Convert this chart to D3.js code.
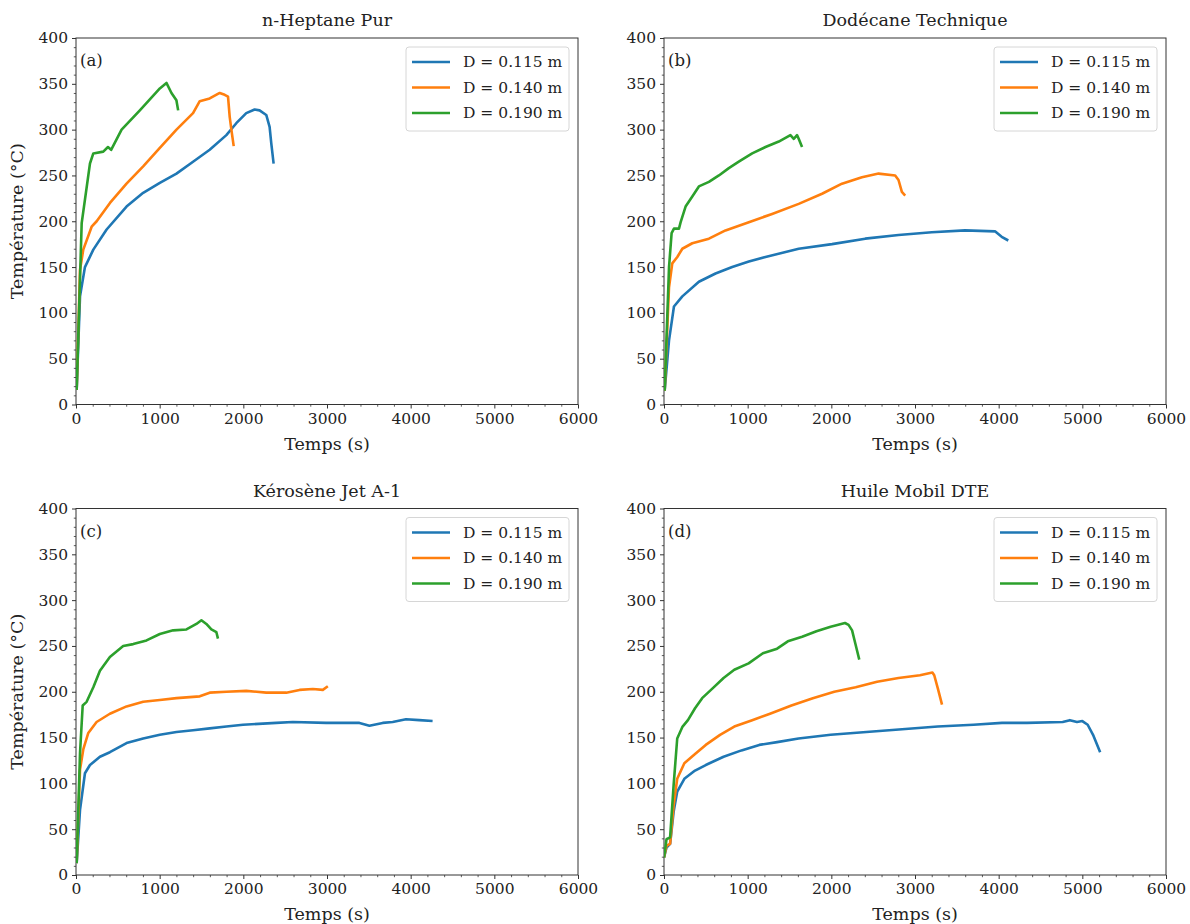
<!DOCTYPE html>
<html><head><meta charset="utf-8">
<script src="https://cdn.jsdelivr.net/npm/d3@7"></script>
<style>
body{margin:0;background:#fff;}
svg{display:block;}
text{font-family:"DejaVu Serif","Liberation Serif",serif;fill:#222;}
</style></head>
<body><svg id="c" width="1190" height="924"></svg>
<script>
// ---- Data ----
const titles = ["n-Heptane Pur", "Dodécane Technique", "Kérosène Jet A-1", "Huile Mobil DTE"];
const panelLabels = ["(a)", "(b)", "(c)", "(d)"];
const seriesNames = ["D = 0.115 m", "D = 0.140 m", "D = 0.190 m"];
const seriesColors = ["#1f77b4", "#ff7f0e", "#2ca02c"];
const xTicks = [0, 1000, 2000, 3000, 4000, 5000, 6000];
const yTicks = [0, 50, 100, 150, 200, 250, 300, 350, 400];

// (a) n-Heptane
const hept115 = [[8,16],[48,118],[107,150],[207,169],[366,191],[604,216],[803,231],[1002,242],[1201,252],[1399,265],[1598,278],[1797,294],[1916,307],[2035,318],[2135,322],[2194,321],[2274,316],[2314,303],[2334,285],[2362,263]];
const hept140 = [[8,16],[48,147],[87,169],[187,194],[247,200],[406,220],[604,241],[803,260],[1002,280],[1201,300],[1399,318],[1479,331],[1598,334],[1718,340],[1777,338],[1817,336],[1837,314],[1857,300],[1885,282]];
const hept190 = [[8,16],[68,198],[167,263],[207,274],[326,276],[382,281],[420,278],[545,300],[763,321],[1002,345],[1081,351],[1141,340],[1200,332],[1221,321]];
// (b) Dodécane
const dod115 = [[8,15],[60,70],[119,107],[219,118],[417,134],[616,143],[815,150],[1014,156],[1213,161],[1610,170],[2008,175],[2405,181],[2803,185],[3201,188],[3598,190],[3956,189],[4036,183],[4115,179]];
const dod140 = [[8,15],[60,128],[99,154],[159,161],[219,170],[338,176],[537,181],[735,190],[1014,199],[1292,208],[1610,219],[1889,230],[2127,241],[2366,248],[2565,252],[2763,250],[2803,245],[2843,232],[2883,228]];
const dod190 = [[8,15],[60,150],[91,187],[119,192],[179,192],[199,199],[258,216],[338,227],[417,238],[537,243],[656,250],[775,258],[894,265],[1054,274],[1213,281],[1372,287],[1511,294],[1551,290],[1590,294],[1610,290],[1650,281]];
// (c) Kérosène
const ker115 = [[8,13],[48,71],[107,111],[167,120],[286,129],[405,134],[604,144],[803,149],[1002,153],[1201,156],[1399,158],[1598,160],[1797,162],[1996,164],[2394,166],[2592,167],[2990,166],[3388,166],[3507,163],[3666,166],[3785,167],[3944,170],[4103,169],[4262,168]];
const ker140 = [[8,13],[48,115],[87,137],[147,155],[246,167],[405,176],[604,184],[803,189],[1002,191],[1201,193],[1479,195],[1598,199],[1797,200],[2035,201],[2274,199],[2513,199],[2672,202],[2831,203],[2950,202],[3010,206]];
const ker190 = [[8,13],[48,133],[80,185],[127,189],[207,205],[286,223],[405,238],[564,250],[684,252],[843,256],[1002,263],[1161,267],[1320,268],[1439,274],[1499,278],[1558,274],[1618,268],[1678,265],[1697,258]];
// (d) Huile Mobil DTE
const oil115 = [[0,19],[30,30],[73,34],[115,69],[158,91],[243,105],[371,114],[499,120],[712,129],[926,136],[1139,142],[1352,145],[1608,149],[1992,153],[2419,156],[2846,159],[3272,162],[3699,164],[4040,166],[4339,166],[4765,167],[4851,169],[4936,167],[5000,168],[5064,164],[5128,153],[5213,134]];
const oil140 = [[0,19],[30,32],[73,34],[115,76],[158,105],[243,122],[371,132],[499,142],[670,153],[840,162],[1054,169],[1267,176],[1523,185],[1779,193],[2035,200],[2291,205],[2547,211],[2803,215],[3059,218],[3208,221],[3230,218],[3272,204],[3323,186]];
const oil190 = [[0,19],[30,39],[73,41],[115,98],[158,149],[222,162],[286,169],[371,182],[456,193],[584,204],[712,215],[840,224],[1011,231],[1182,242],[1352,247],[1480,255],[1651,260],[1822,266],[1992,271],[2163,275],[2206,273],[2248,267],[2291,251],[2334,235]];

const panelSeries = [[hept115, hept140, hept190],[dod115, dod140, dod190],[ker115, ker140, ker190],[oil115, oil140, oil190]];

// ---- Layout ----
const svg = d3.select("#c");
const W = 502, H = 366.5;
const origins = [[76,38],[664,38],[76,508.5],[664,508.5]];

panelSeries.forEach((series, i) => {
  const [ox, oy] = origins[i];
  const g = svg.append("g").attr("transform", `translate(${ox},${oy})`);
  const x = d3.scaleLinear().domain([0, 6000]).range([0, W]);
  const y = d3.scaleLinear().domain([0, 400]).range([H, 0]);

  // minor ticks
  const xMinor = d3.range(0, 6001, 200).filter(v => v % 1000 !== 0);
  const yMinor = d3.range(0, 401, 10).filter(v => v % 50 !== 0);
  g.append("g").attr("transform", `translate(0,${H})`)
    .call(d3.axisBottom(x).tickValues(xMinor).tickSize(2.2).tickFormat(""))
    .call(a => a.select(".domain").remove())
    .selectAll("line").attr("stroke", "#333").attr("stroke-width", 0.8);
  g.append("g")
    .call(d3.axisLeft(y).tickValues(yMinor).tickSize(2.2).tickFormat(""))
    .call(a => a.select(".domain").remove())
    .selectAll("line").attr("stroke", "#333").attr("stroke-width", 0.8);

  // major axes
  const xa = g.append("g").attr("transform", `translate(0,${H})`)
    .call(d3.axisBottom(x).tickValues(xTicks).tickSize(4).tickPadding(4).tickFormat(d3.format("d")));
  const ya = g.append("g")
    .call(d3.axisLeft(y).tickValues(yTicks).tickSize(4).tickPadding(4).tickFormat(d3.format("d")));
  [xa, ya].forEach(a => {
    a.select(".domain").remove();
    a.selectAll("line").attr("stroke", "#333").attr("stroke-width", 1);
    a.selectAll("text").attr("font-size", 15.5).attr("fill", "#222")
      .style("font-family", '"DejaVu Serif",serif');
  });

  // frame
  g.append("rect").attr("width", W).attr("height", H)
    .attr("fill", "none").attr("stroke", "#333").attr("stroke-width", 1);

  // lines
  const line = d3.line().x(d => x(d[0])).y(d => y(d[1]));
  const clip = "clip" + i;
  g.append("clipPath").attr("id", clip).append("rect").attr("width", W).attr("height", H);
  series.forEach((s, k) => {
    g.append("path").datum(s).attr("d", line)
      .attr("fill", "none").attr("stroke", seriesColors[k])
      .attr("stroke-width", 2.6).attr("stroke-linejoin", "round").attr("stroke-linecap", "butt")
      .attr("clip-path", `url(#${clip})`);
  });

  // title
  g.append("text").attr("x", W / 2).attr("y", -12).attr("text-anchor", "middle")
    .attr("font-size", 17.5).text(titles[i]);
  // panel label
  g.append("text").attr("x", 4).attr("y", 28).attr("font-size", 16.5).text(panelLabels[i]);
  // x label
  g.append("text").attr("x", W / 2).attr("y", H + 45).attr("text-anchor", "middle")
    .attr("font-size", 17.5).text("Temps (s)");
  // y label
  if (i % 2 === 0) {
    g.append("text").attr("transform", `translate(${-53},${H / 2}) rotate(-90)`)
      .attr("text-anchor", "middle").attr("font-size", 17.5).text("Température (°C)");
  }

  // legend
  const lw = 163, lh = 84;
  const lg = g.append("g").attr("transform", `translate(${W - 9 - lw},9)`);
  lg.append("rect").attr("width", lw).attr("height", lh).attr("rx", 3)
    .attr("fill", "#fff").attr("fill-opacity", 0.8).attr("stroke", "#d6d6d6").attr("stroke-width", 1);
  seriesNames.forEach((n, k) => {
    const yy = 15 + k * 25.5;
    lg.append("line").attr("x1", 6).attr("x2", 44).attr("y1", yy).attr("y2", yy)
      .attr("stroke", seriesColors[k]).attr("stroke-width", 2.6);
    lg.append("text").attr("x", 57).attr("y", yy).attr("dy", "0.35em")
      .attr("font-size", 15.5).text(n);
  });
});
</script></body></html>
